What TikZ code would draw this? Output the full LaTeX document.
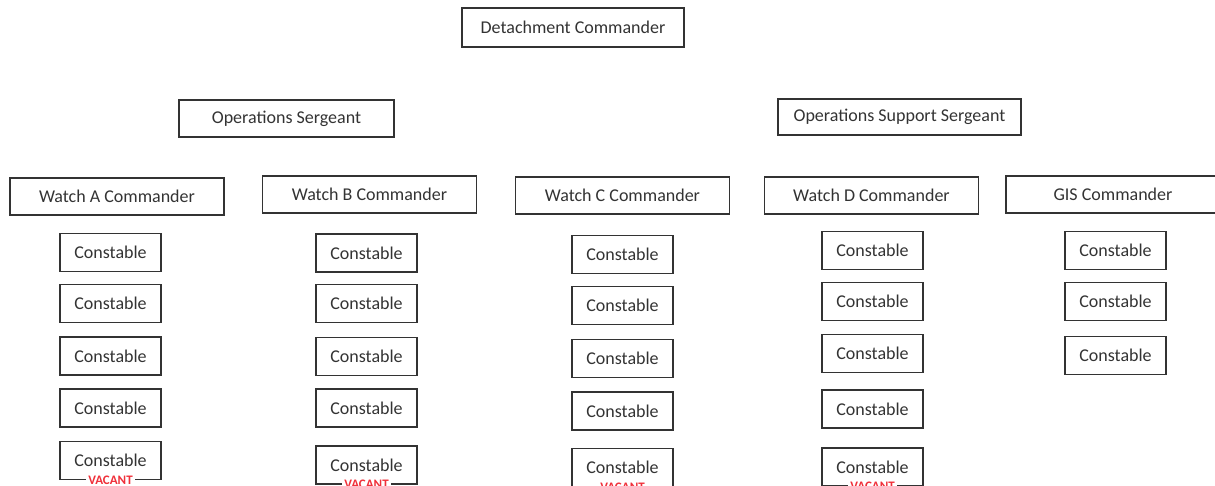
\documentclass[tikz,border=0pt]{standalone}
\usepackage{fontspec}
\setmainfont{Carlito}
\usetikzlibrary{positioning}
\definecolor{ink}{HTML}{333333}
\definecolor{vacred}{HTML}{F0303A}

\begin{document}
\begin{tikzpicture}[x=1pt,y=-1pt,
  post/.style={draw=ink,line width=1.1pt,text=ink,font=\fontsize{18}{20}\selectfont,inner sep=0pt},
  cmd/.style={post,minimum width=214pt,minimum height=37pt},
  con/.style={post,minimum width=101pt,minimum height=38pt},
  vacant/.style={fill=white,text=vacred,font=\fontsize{13}{14}\selectfont\bfseries,inner xsep=2pt,inner ysep=0pt}]

\useasboundingbox (0,0) rectangle (1215,486);
\clip (0,0) rectangle (1215,486);

% top levels
\node[post,minimum width=222pt,minimum height=39pt] (det) at (573,27.5) {Detachment Commander};
\node[post,minimum width=215pt,minimum height=37pt] (opssgt) at (286.5,118.5) {Operations Sergeant};
\node[post,minimum width=243pt,minimum height=36pt] (supsgt) at (899.5,117) {Operations Support Sergeant};

% watch commanders
\node[cmd] (wa) at (117,196.5) {Watch A Commander};
\node[cmd] (wb) at (369.5,194.5) {Watch B Commander};
\node[cmd] (wc) at (622.5,195.5) {Watch C Commander};
\node[cmd] (wd) at (871.5,195.5) {Watch D Commander};
\node[cmd] (gis) at (1113,194.5) {GIS Commander};

% constables
\foreach \y [count=\i] in {252.5,303.5,356,408,460.5}
  \node[con] (ca\i) at (110.5,\y) {Constable};
\foreach \y [count=\i] in {253,303.5,356.5,408,465}
  \node[con] (cb\i) at (366.5,\y) {Constable};
\foreach \y [count=\i] in {254.5,305.5,358.5,411,467.5}
  \node[con] (cc\i) at (622.5,\y) {Constable};
\foreach \y [count=\i] in {250.5,301.5,353.5,409,467}
  \node[con] (cd\i) at (872.5,\y) {Constable};
\foreach \y [count=\i] in {250.5,301.5,355.5}
  \node[con] (cg\i) at (1115.5,\y) {Constable};

% vacant posts
\foreach \c in {ca5,cb5,cc5,cd5}
  \node[vacant] (v\c) at (\c.south) {VACANT};

\end{tikzpicture}
\end{document}
